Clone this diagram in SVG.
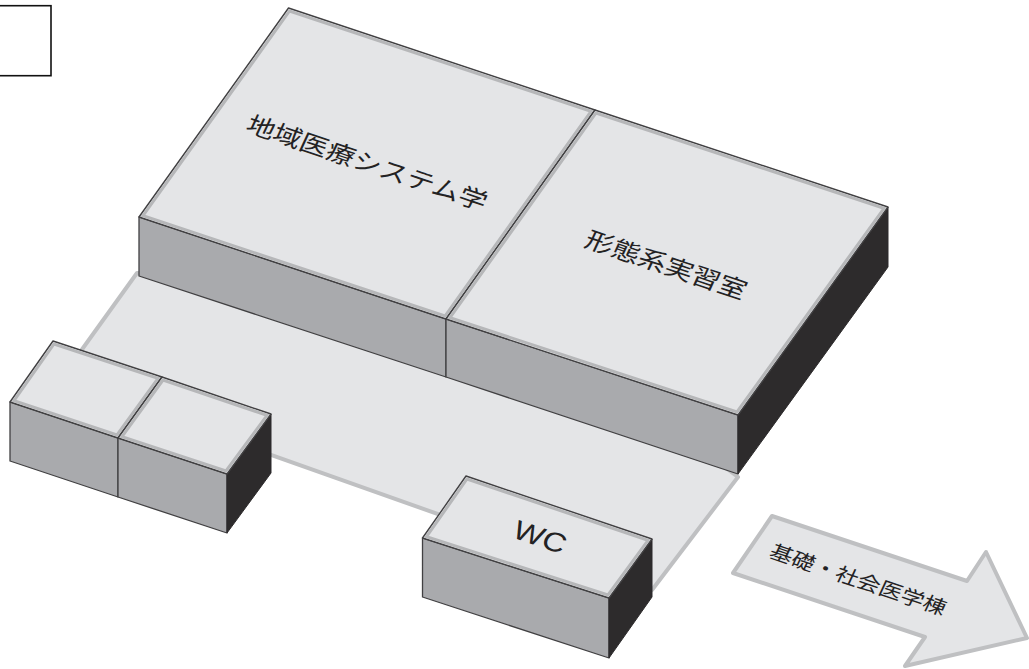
<svg xmlns="http://www.w3.org/2000/svg" width="1029" height="669" viewBox="0 0 1029 669">
<style>
.side{fill:#a9aaad;stroke:#414042;stroke-width:1.3;stroke-linejoin:round}
.dark{fill:#2d2b2c;stroke:#2d2b2c;stroke-width:1;stroke-linejoin:round}
.top{fill:#e4e5e7;stroke:#414042;stroke-width:1.4;stroke-linejoin:round}
.rim{fill:none;stroke:#b6b7b9;stroke-width:3;stroke-linejoin:miter}
.floor{fill:#e4e5e7;stroke:#bfc0c2;stroke-width:4;stroke-linejoin:round}
text{font-family:"Noto Sans CJK JP","Liberation Sans",sans-serif;fill:#232223;text-anchor:middle}
</style>
<rect width="1029" height="669" fill="#fff"/>
<g id="legend-box"><rect x="-5" y="5.7" width="56" height="70" fill="#fff" stroke="#111" stroke-width="1.6"/></g>
<g id="floor"><polygon class="floor" points="137,273 60,380 652,590 738,477 500,300"/></g>
<g id="room-chiiki">
<polygon class="side" points="139,217 446,319 446,377 139,276"/>
<polygon class="top" points="288.5,8 139,217 446,319 595,110"/>
<polygon class="rim" points="289.5,11 143,215.7 445,316 591,111.3"/>
<text font-size="28" transform="matrix(.95,.32,-.36,.78,367,163)" y="10">地域医療システム学</text>
</g>
<g id="room-keitai">
<polygon class="side" points="446,319 738,415 738,474 446,377"/>
<polygon class="dark" points="738,415 888,207 888,267 738,474"/>
<polygon class="top" points="595,110 446,319 738,415 888,207"/>
<polygon class="rim" points="596,113 450,317.7 737,412 884,208.3"/>
<text font-size="28" transform="matrix(.95,.32,-.36,.78,666,265)" y="10">形態系実習室</text>
</g>
<g id="room-small-a">
<polygon class="side" points="10,402 118,438 118,497 10,461"/>
<polygon class="top" points="53,341 10,402 118,438 162,377"/>
<polygon class="rim" points="54,344 14,400.7 117,435 158,378.3"/>
</g>
<g id="room-small-b">
<polygon class="side" points="118,438 227,474 227,533 118,497"/>
<polygon class="dark" points="227,474 271,414 271,473 227,533"/>
<polygon class="top" points="162,377 118,438 227,474 271,414"/>
<polygon class="rim" points="163,380 122,436.7 226,471 267,415.3"/>
</g>
<g id="room-wc">
<polygon class="side" points="422.5,538 609,598 609,658 422.5,597"/>
<polygon class="dark" points="609,598 652,539 652,597 609,658"/>
<polygon class="top" points="466,476 422.5,538 609,598 652,539"/>
<polygon class="rim" points="467,479 426.5,536.7 608,595 648,540.3"/>
<text font-size="32" transform="matrix(.95,.32,-.36,.78,540,537)" y="11" style="font-family:'Liberation Sans',sans-serif">WC</text>
</g>
<g id="arrow-kiso">
<polygon class="floor" points="772,516 967,581 986,552 1027,638 905,666 925,637 733,573"/>
<text font-size="23" transform="matrix(.95,.32,-.36,.78,858,580)" y="8">基礎・社会医学棟</text>
</g>
</svg>
